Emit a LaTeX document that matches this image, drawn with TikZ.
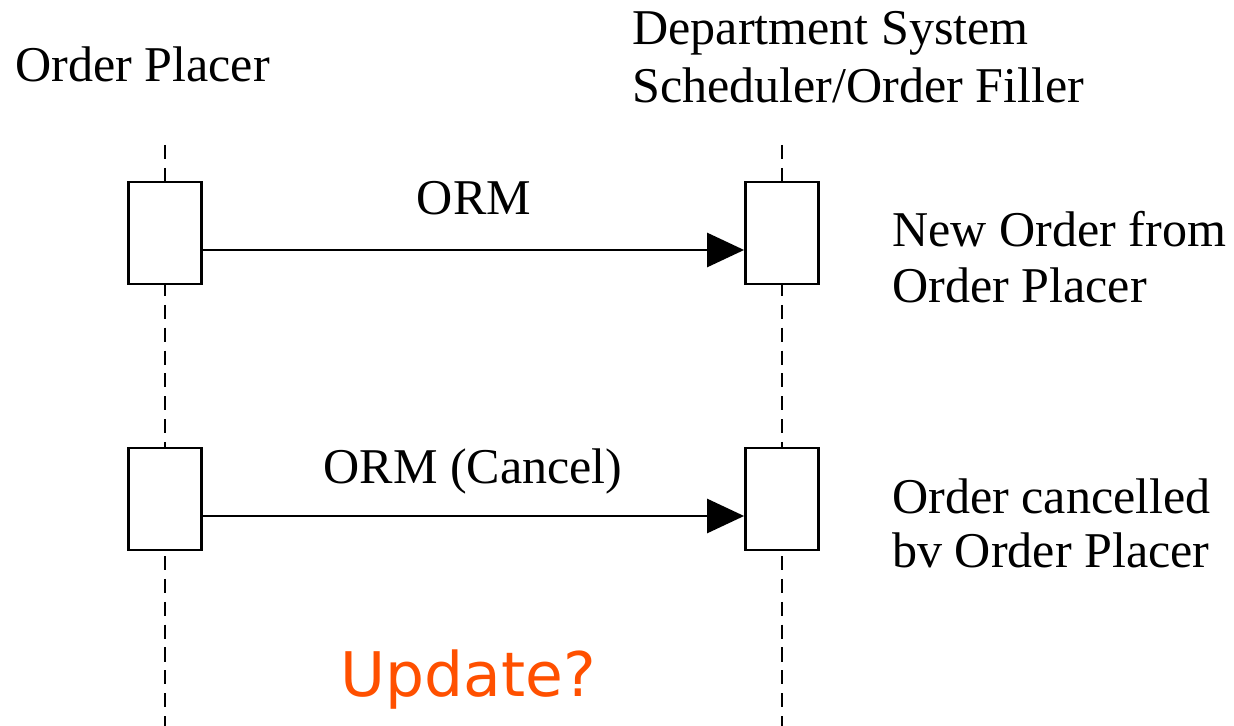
\documentclass[tikz,border=0pt]{standalone}
\usepackage{fontspec}
\setmainfont{Liberation Serif}
\newfontfamily\notefont{DejaVu Sans}
\usetikzlibrary{arrows.meta}
\definecolor{updateorange}{RGB}{255,80,0}

\begin{document}
\begin{tikzpicture}[x=0.02cm,y=-0.02cm,
    lbl/.style={font=\fontsize{28.5}{32}\selectfont,inner sep=0pt},
    act/.style={draw,line width=1.6pt,fill=white,minimum width=1.46cm,minimum height=2.04cm,inner sep=0pt},
    life/.style={line width=1.3pt,dash pattern=on 8pt off 5pt},
    msg/.style={line width=1.6pt,-{Triangle[length=0.74cm,width=0.68cm]}}]
    \useasboundingbox (0,0) rectangle (1234,726);
    % lifelines
    \coordinate (lp top) at (165,145);
    \coordinate (lp bot) at (165,726);
    \coordinate (lf top) at (782,145);
    \coordinate (lf bot) at (782,726);
    \draw[life] (lp top) -- (lp bot);
    \draw[life] (lf top) -- (lf bot);
    % headers
    \node[lbl,anchor=base west] (placer) at (15,82) {Order Placer};
    \node[lbl,anchor=base west] (dept) at (632,45) {Department System};
    \node[lbl,anchor=base west] (sched) at (632,103) {Scheduler/Order Filler};
    % activations
    \node[act] (p1) at (165,233) {};
    \node[act] (f1) at (782,233) {};
    \node[act] (p2) at (165,499) {};
    \node[act] (f2) at (782,499) {};
    % messages
    \draw[msg] ([yshift=-0.34cm]p1.east) -- ([yshift=-0.34cm]f1.west);
    \draw[msg] ([yshift=-0.34cm]p2.east) -- ([yshift=-0.34cm]f2.west);
    \node[lbl,anchor=base] (orm) at (474,215) {ORM};
    \node[lbl,anchor=base] (cancel) at (473,483) {ORM (Cancel)};
    % notes
    \node[lbl,anchor=base west] (new a) at (892,247) {New Order from};
    \node[lbl,anchor=base west] (new b) at (892,302) {Order Placer};
    \node[lbl,anchor=base west] (can a) at (892,513) {Order cancelled};
    \node[lbl,anchor=base west] (can b) at (892,567) {bv Order Placer};
    \node[inner sep=0pt,anchor=base west,text=updateorange,font=\notefont\fontsize{35}{40}\selectfont] (upd) at (340,696) {Update?};
\end{tikzpicture}
\end{document}
